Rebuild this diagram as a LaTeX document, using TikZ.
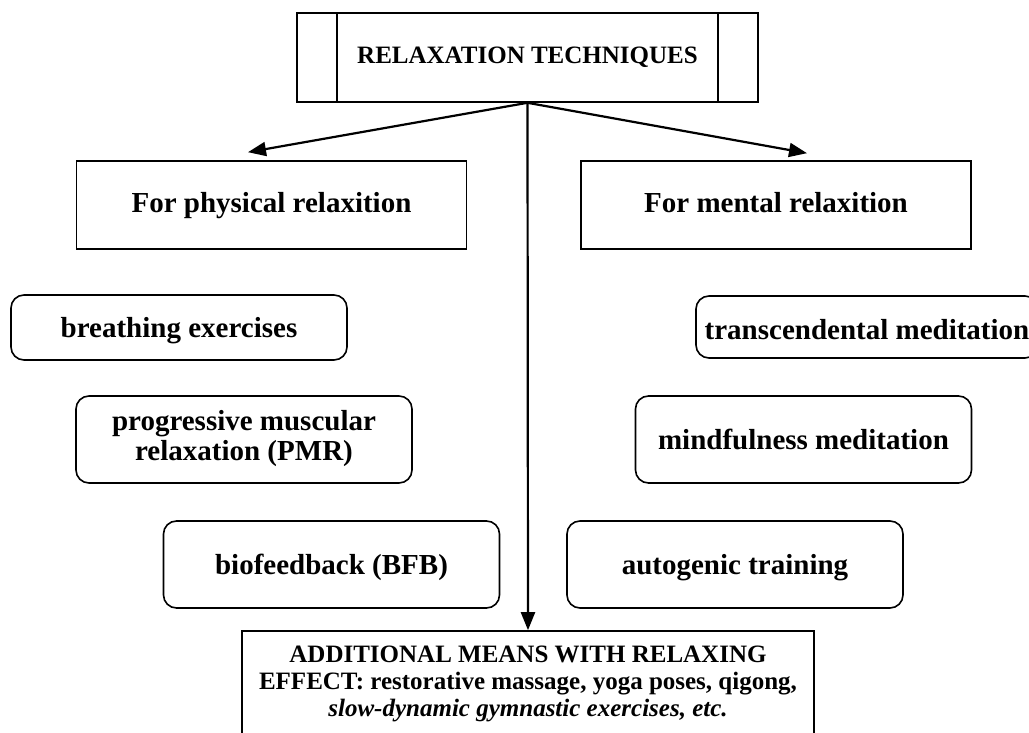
\documentclass[tikz,border=0pt]{standalone}
\usepackage{fontspec}
\setmainfont{Liberation Serif}
\usetikzlibrary{arrows.meta}

\begin{document}
\begin{tikzpicture}[x=1pt, y=-1pt,
    box/.style={draw, line width=1.6pt, inner sep=0pt, align=center,
        font=\fontsize{29}{30}\selectfont\bfseries},
    oneline/.style={text height=25pt, text depth=5pt},
    twolines/.style={execute at begin node=\strut, execute at end node=\strut},
    kindbox/.style={box, oneline, text height=23pt, text depth=9pt, minimum width=390pt, minimum height=88pt},
    waybox/.style={box, rounded corners=13pt, minimum width=336pt, minimum height=87pt},
    arrow/.style={line width=2.2pt, -{Triangle[length=18pt,width=14pt]}}]
    \useasboundingbox (0,0) rectangle (1029,733);
    % Title
    \node[box, minimum width=461pt, minimum height=89pt, text height=19pt, text depth=6pt,
        font=\fontsize{25}{27}\selectfont\bfseries] (title) at (527.5,57.5) {RELAXATION TECHNIQUES};
    \draw[line width=1.6pt] ([xshift=41pt]title.north west) -- ([xshift=41pt]title.south west);
    \draw[line width=1.6pt] ([xshift=-41pt]title.north east) -- ([xshift=-41pt]title.south east);
    % Kinds
    \node[kindbox] (phys) at (271.5,205) {For physical relaxition};
    \node[kindbox] (ment) at (776,205) {For mental relaxition};
    % Physical
    \node[waybox, oneline] (breath) at (179,327.5) [minimum height=65pt] {breathing exercises};
    \node[waybox, twolines] (pmr) at (244,439.5) {progressive muscular\\relaxation (PMR)};
    \node[waybox, oneline] (bfb) at (331.5,564.5) {biofeedback (BFB)};
    % Mental
    \node[waybox, oneline, text height=27pt, text depth=3pt] (trans) at (867,327)
        [minimum width=342pt, minimum height=62pt] {transcendental meditation};
    \node[waybox, oneline] (mind) at (803.5,439.5) {mindfulness meditation};
    \node[waybox, oneline] (auto) at (735,564.5) {autogenic training};
    % Additional
    \node[box, twolines, minimum width=572pt, minimum height=108pt,
        font=\fontsize{25}{27}\selectfont\bfseries] (add) at (528,685)
        {ADDITIONAL MEANS WITH RELAXING\\EFFECT: restorative massage, yoga poses, qigong,\\\textit{slow-dynamic gymnastic exercises, etc.}};
    % Arrows
    \coordinate (physin) at ([xshift=-23.5pt,yshift=8pt]phys.north);
    \coordinate (mentin) at ([xshift=31pt,yshift=7pt]ment.north);
    \draw[arrow] (title.south) -- (physin);
    \draw[arrow] (title.south) -- (mentin);
    \draw[arrow] (title.south) -- (add.north);
\end{tikzpicture}
\end{document}
